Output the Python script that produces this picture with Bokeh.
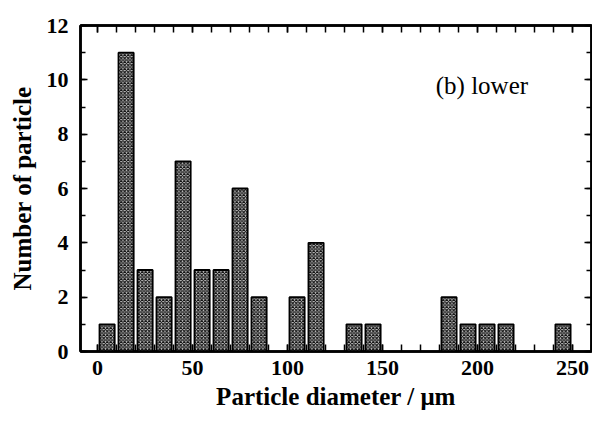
from bokeh.plotting import figure
from bokeh.models import FixedTicker, LinearAxis, Range1d, Label, ColumnDataSource
from bokeh.embed import file_html
from bokeh.resources import INLINE

# data
diameters = [5, 15, 25, 35, 45, 55, 65, 75, 85, 105, 115, 135, 145, 185, 195, 205, 215, 245]
counts = [1, 11, 3, 2, 7, 3, 3, 6, 2, 2, 4, 1, 1, 2, 1, 1, 1, 1]
x_major = [0, 50, 100, 150, 200, 250]
x_minor = list(range(-10, 261, 10))
y_major = [0, 2, 4, 6, 8, 10, 12]
y_minor = list(range(0, 13, 1))

FONT = "Liberation Serif"

p = figure(width=592, height=413, output_backend="svg", toolbar_location=None,
           x_range=Range1d(-9, 260), y_range=Range1d(0, 12),
           min_border_left=80, min_border_right=1, min_border_top=25, min_border_bottom=62)
p.grid.visible = False
p.background_fill_color = "white"
p.border_fill_color = "white"
p.outline_line_color = "black"
p.outline_line_width = 2.5

src = ColumnDataSource(dict(x=diameters, top=counts))
p.vbar(x="x", top="top", bottom=0, width=8, source=src,
       fill_color="#c8c8c8", line_color="black", line_width=1.8,
       hatch_pattern="x", hatch_scale=3.5, hatch_weight=1.1, hatch_color="#111111")

def style(ax, labels=True):
    ax.axis_line_color = "black"
    ax.axis_line_width = 2.5
    ax.major_tick_in = 7
    ax.major_tick_out = 0
    ax.minor_tick_in = 7
    ax.minor_tick_out = 0
    ax.major_tick_line_width = 1.5
    ax.minor_tick_line_width = 1.5
    ax.major_tick_line_color = "black"
    ax.minor_tick_line_color = "black"
    ax.major_label_text_font = FONT
    ax.major_label_text_font_style = "bold"
    ax.major_label_text_font_size = "22px"
    ax.major_label_text_color = "black"
    ax.axis_label_text_font = FONT
    ax.axis_label_text_font_style = "bold"
    ax.axis_label_text_font_size = "25px"
    ax.axis_label_text_color = "black"
    if not labels:
        ax.major_label_text_alpha = 0
        ax.major_label_text_font_size = "1px"

xb = p.xaxis[0]
xb.ticker = FixedTicker(ticks=x_major, minor_ticks=x_minor)
xb.axis_label = "Particle diameter / μm"
style(xb)
xb.major_label_standoff = 9
xb.axis_label_standoff = 5

yl = p.yaxis[0]
yl.ticker = FixedTicker(ticks=y_major, minor_ticks=y_minor)
yl.axis_label = "Number of particle"
style(yl)
yl.major_label_standoff = 12
yl.axis_label_standoff = 8
yl.minor_tick_in = 5

top = LinearAxis(ticker=FixedTicker(ticks=x_major, minor_ticks=x_minor))
style(top, labels=False)
p.add_layout(top, "above")

right = LinearAxis(ticker=FixedTicker(ticks=y_major, minor_ticks=y_minor))
style(right, labels=False)
right.minor_tick_in = 5
p.add_layout(right, "right")

p.add_layout(Label(x=178, y=9.3, text="(b) lower", text_font=FONT,
                   text_font_size="25px", text_color="black"))

open("out.html", "w").write(file_html(p, INLINE))
